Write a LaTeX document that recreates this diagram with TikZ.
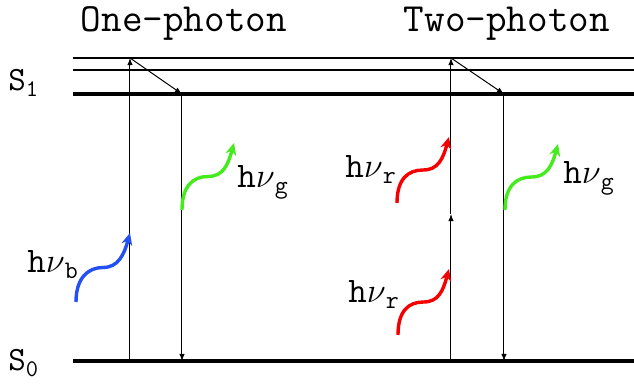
\documentclass[tikz,border=0pt]{standalone}
\usepackage{fontspec}
\definecolor{phblue}{RGB}{35,80,245}
\definecolor{phgreen}{RGB}{70,235,30}
\definecolor{phred}{RGB}{245,0,0}
\usetikzlibrary{arrows.meta,calc}

% wavy photon arrow from #1 to #2
\newcommand{\photon}[3]{%
  \draw[photon,#3] (#1) .. controls +(0,-24) and +(-15,0) .. ($(#1)!0.5!(#2)$)
    .. controls +(15,0) and +(-6,22) .. (#2);}

\begin{document}
\begin{tikzpicture}[x=0.5pt,y=-0.5pt,
        level/.style={line width=2pt},
        sublevel/.style={line width=0.7pt},
        trans/.style={-{Latex[length=3.6pt,width=2.8pt]}, line width=0.5pt},
        photon/.style={-{Stealth[length=6pt,width=5.5pt]}, line width=1.7pt},
        title/.style={font=\ttfamily\fontsize{20}{23}\selectfont, anchor=base},
        state/.style={font=\ttfamily\fontsize{17}{20}\selectfont, anchor=base west, inner sep=0pt},
        lbl/.style={font=\ttfamily\fontsize{18}{21}\selectfont, anchor=base west, inner sep=0pt}
      ]
        \useasboundingbox (0,0) rectangle (634,384);

        \node[title] (one) at (184,32) {One-photon};
        \node[title] (two) at (507,32) {Two-photon};

        % energy levels
        \coordinate (v2L) at (73,58);  \coordinate (v2R) at (634,58);
        \coordinate (v1L) at (73,70);  \coordinate (v1R) at (634,70);
        \coordinate (s1L) at (73,94);  \coordinate (s1R) at (634,94);
        \coordinate (s0L) at (73,361); \coordinate (s0R) at (634,361);
        \draw[sublevel] (v2L) -- (v2R);
        \draw[sublevel] (v1L) -- (v1R);
        \draw[level]    (s1L) -- (s1R);
        \draw[level]    (s0L) -- (s0R);

        \node[state] (s1) at (8,91)  {S\textsubscript{1}};
        \node[state] (s0) at (8,371) {S\textsubscript{0}};

        % one-photon transitions
        \coordinate (abot) at (130,361); \coordinate (atop) at (130,58);
        \coordinate (btop) at (182,94);  \coordinate (bbot) at (182,361);
        \draw[trans] (abot) -- (atop);
        \draw[trans] (atop) -- (btop);
        \draw[trans] (btop) -- (bbot);

        % two-photon transitions
        \coordinate (cbot) at (451,361); \coordinate (cmid) at (451,214);
        \coordinate (ctop) at (451,58);
        \coordinate (dtop) at (504,94);  \coordinate (dbot) at (504,361);
        \draw[trans] (cbot) -- (cmid);
        \draw[trans] (cmid) -- (ctop);
        \draw[trans] (ctop) -- (dtop);
        \draw[trans] (dtop) -- (dbot);

        % photons
        \coordinate (pb0) at (76,302);  \coordinate (pb1) at (130,233);
        \coordinate (pg0) at (182,210); \coordinate (pg1) at (234,143);
        \coordinate (pr0) at (397,203); \coordinate (pr1) at (449,137);
        \coordinate (pq0) at (398,335); \coordinate (pq1) at (449,269);
        \coordinate (ph0) at (505,210); \coordinate (ph1) at (558,144);
        \photon{pb0}{pb1}{phblue}
        \photon{pg0}{pg1}{phgreen}
        \photon{pr0}{pr1}{phred}
        \photon{pq0}{pq1}{phred}
        \photon{ph0}{ph1}{phgreen}

        \node[lbl] (hb)  at (27,273)  {h$\nu$\textsubscript{b}};
        \node[lbl] (hg)  at (237,188) {h$\nu$\textsubscript{g}};
        \node[lbl] (hr)  at (345,178) {h$\nu$\textsubscript{r}};
        \node[lbl] (hq)  at (348,303) {h$\nu$\textsubscript{r}};
        \node[lbl] (hh)  at (563,184) {h$\nu$\textsubscript{g}};
      \end{tikzpicture}
\end{document}
